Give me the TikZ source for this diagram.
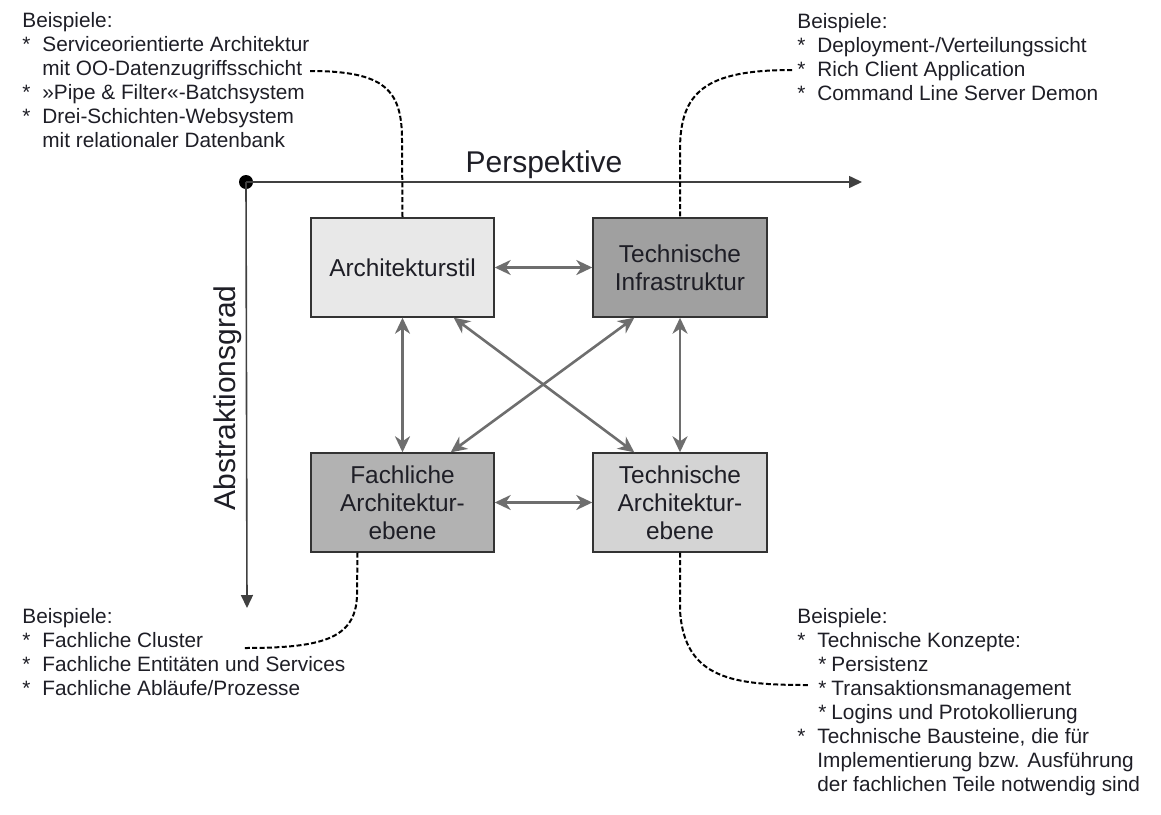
\documentclass[tikz,border=0pt]{standalone}
\usepackage{fontspec}
\setmainfont{Liberation Sans}
\usetikzlibrary{arrows.meta, calc, positioning}

\definecolor{lightfill}{HTML}{E8E8E8}
\definecolor{darkfill}{HTML}{A0A0A0}
\definecolor{midfill}{HTML}{B2B2B2}
\definecolor{palefill}{HTML}{D4D4D4}
\definecolor{linkgray}{HTML}{6E6E6E}
\definecolor{txt}{HTML}{1E1E26}

\newcommand{\itm}{\makebox[10pt][l]{*}}
\newcommand{\cnt}{\hspace*{10pt}}
\newcommand{\subitm}{\hspace*{10.5pt}\makebox[6.5pt][l]{*}}

\begin{document}
\begin{tikzpicture}[x=0.5pt, y=-0.5pt,
    box/.style={draw=black!80, line width=0.7pt, minimum height=49.5pt, inner sep=0pt,
        align=center, text=txt, font=\fontsize{12.2}{14}\selectfont},
    link/.style={draw=linkgray, line width=1.3pt, {Stealth[length=8pt, width=7.5pt, inset=2.5pt]}-{Stealth[length=8pt, width=7.5pt, inset=2.5pt]}},
    axis/.style={draw=black!75, line width=0.8pt, -{Triangle[length=6.5pt, width=6pt]}},
    dot/.style={circle, fill=black, inner sep=0pt, minimum size=7pt},
    biglabel/.style={text=txt, inner sep=0pt, font=\fontsize{15}{18}\selectfont},
    lst/.style={anchor=north west, align=left, inner sep=0pt, text=txt, font=\fontsize{10.4}{12}\selectfont},
    dashline/.style={draw=black, line width=1pt, dash pattern=on 2.5pt off 1.2pt}]
    \useasboundingbox (0,0) rectangle (1161,814);

    % the four boxes
    \node[box, fill=lightfill, minimum width=91.5pt] (arch) at (402.5,267.5) {Architekturstil};
    \node[box, fill=darkfill, minimum width=87pt] (infra) at (680,267.5) {Technische\\Infrastruktur};
    \node[box, fill=midfill, minimum width=91.5pt] (fach) at (402.5,502.5) {Fachliche\\Architektur-\\ebene};
    \node[box, fill=palefill, minimum width=87pt] (tarch) at (680,502.5) {Technische\\Architektur-\\ebene};

    \draw[link] (arch) -- (infra);
    \draw[link] (fach) -- (tarch);
    \draw[link] (arch) -- (fach);
    \draw[link] (infra) -- (tarch);
    \draw[link] ($(arch.south east)+(-41,0)$) -- ($(tarch.north west)+(42,0)$);
    \draw[link] ($(infra.south west)+(42,0)$) -- ($(fach.north east)+(-44,0)$);

    % axes
    \node[dot] (origin) at (246,182) {};
    \coordinate (xtip) at (862,182);
    \coordinate (ytip) at (247,608);
    \draw[axis] (origin.center) -- (xtip);
    \draw[axis] (origin.center) -- (ytip);
    \node[biglabel, anchor=base] (persp) at (544,172) {Perspektive};
    \node[biglabel, rotate=90, anchor=base] (abstr) at (235,398) {Abstraktionsgrad};

    % examples
    \node[lst] (exA) at (22,12) {Beispiele:\\
        \itm Serviceorientierte Architektur\\
        \cnt mit OO-Datenzugriffsschicht\\
        \itm »Pipe \& Filter«-Batchsystem\\
        \itm Drei-Schichten-Websystem\\
        \cnt mit relationaler Datenbank};
    \node[lst] (exB) at (797,13) {Beispiele:\\
        \itm Deployment-/Verteilungssicht\\
        \itm Rich Client Application\\
        \itm Command Line Server Demon};
    \node[lst] (exC) at (22,608) {Beispiele:\\
        \itm Fachliche Cluster\\
        \itm Fachliche Entitäten und Services\\
        \itm Fachliche Abläufe/Prozesse};
    \node[lst] (exD) at (797,608) {Beispiele:\\
        \itm Technische Konzepte:\\
        \subitm Persistenz\\
        \subitm Transaktionsmanagement\\
        \subitm Logins und Protokollierung\\
        \itm Technische Bausteine, die für\\
        \cnt Implementierung bzw. Ausführung\\
        \cnt der fachlichen Teile notwendig sind};

    \coordinate (exAend) at (310,71);
    \coordinate (exBend) at (792,70);
    \coordinate (exCend) at (243,648);
    \coordinate (exDend) at (808,685);

    \draw[dashline] (exAend) .. controls (385,71) and (402,90) .. (402,140) -- (arch.north);
    \draw[dashline] (exBend) .. controls (705,70) and (680,92) .. (680,150) -- (infra.north);
    \draw[dashline] ($(fach.south)+(-45,0)$) -- (357,595) .. controls (356,640) and (320,648) .. (exCend);
    \draw[dashline] (tarch.south) -- (680,610) .. controls (684,680) and (735,685) .. (exDend);
\end{tikzpicture}
\end{document}
